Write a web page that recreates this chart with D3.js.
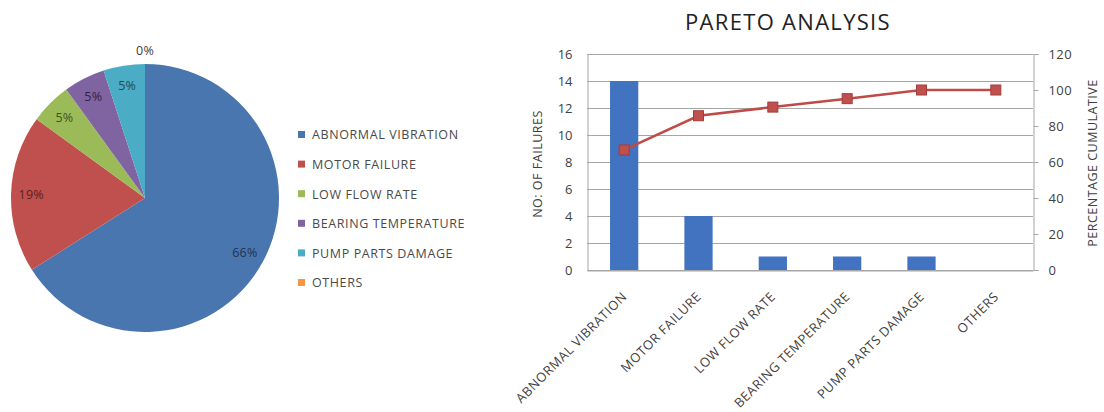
<!DOCTYPE html>
<html>
<head>
<meta charset="utf-8">
<script src="https://cdn.jsdelivr.net/npm/d3@7"></script>
<style>
  html, body { margin: 0; padding: 0; background: #fff; }
  svg { display: block; font-family: "Open Sans", Lato, sans-serif; }
</style>
</head>
<body>
<svg id="chart" width="1104" height="412"></svg>
<script>
// Failure categories and counts
const categories = ["ABNORMAL VIBRATION", "MOTOR FAILURE", "LOW FLOW RATE",
                    "BEARING TEMPERATURE", "PUMP PARTS DAMAGE", "OTHERS"];
const failures = [14, 4, 1, 1, 1, 0];
// Share of failures as printed on the pie slices
const sharePct = [66, 19, 5, 5, 5, 0];
// Cumulative percentage for the Pareto line
const cumulativePct = [66.7, 85.7, 90.5, 95.2, 100, 100];
const leftTicks = [0, 2, 4, 6, 8, 10, 12, 14, 16];
const rightTicks = [0, 20, 40, 60, 80, 100, 120];

const pieColors = ["#4a76b0", "#c0504d", "#9bbb59", "#8064a2", "#4bacc6", "#f79646"];
const textColor = "#404040";
const font = "'Open Sans', Lato, sans-serif";

const svg = d3.select("#chart");

// ---------- Pie ----------
const pieG = svg.append("g").attr("transform", "translate(145,198)");
const radius = 134;
const pie = d3.pie().sort(null).value(d => d)(sharePct);
const arc = d3.arc().innerRadius(0).outerRadius(radius);
pieG.selectAll("path.slice").data(pie).join("path")
  .attr("class", "slice")
  .attr("d", arc)
  .attr("fill", (d, i) => pieColors[i]);

// Percent labels: inside near the rim, the empty slice sits outside
const labelArc = d3.arc().innerRadius(radius * 0.85).outerRadius(radius * 0.85);
const outerArc = d3.arc().innerRadius(radius * 1.1).outerRadius(radius * 1.1);
const labelColors = ["#1f3350", "#5a1f1e", "#3f5220", "#2f2245", "#1f4a55", "#404040"];
pieG.selectAll("text.pct").data(pie).join("text")
  .attr("class", "pct")
  .attr("transform", (d, i) => {
    const c = d.value === 0 ? outerArc.centroid(d) : labelArc.centroid(d);
    return `translate(${c[0]},${c[1]})`;
  })
  .attr("text-anchor", "middle")
  .attr("dy", "0.35em")
  .attr("font-size", 12.5)
  .attr("letter-spacing", 0.2)
  .attr("fill", (d, i) => labelColors[i])
  .text(d => d.value + "%");

// Legend
const legend = svg.append("g").attr("transform", "translate(298,135)");
const rowY = d3.scalePoint().domain(categories).range([0, 148]);
const lg = legend.selectAll("g").data(categories).join("g")
  .attr("transform", d => `translate(0,${rowY(d)})`);
lg.append("rect").attr("x", 0).attr("y", -4).attr("width", 7).attr("height", 7)
  .attr("fill", (d, i) => pieColors[i]);
lg.append("text").attr("x", 14).attr("dy", "0.35em")
  .attr("font-size", 12.5).attr("letter-spacing", 0.6)
  .attr("fill", "#4a4a4a").text(d => d);

// ---------- Pareto ----------
const plot = { left: 587, right: 1033, top: 54, bottom: 270 };
const x = d3.scaleBand().domain(categories).range([plot.left, plot.right]).paddingInner(0.62).paddingOuter(0.31);
const xc = d3.scalePoint().domain(categories).range([plot.left, plot.right]).padding(0.5);
const yL = d3.scaleLinear().domain([0, 16]).range([plot.bottom, plot.top]);
const yR = d3.scaleLinear().domain([0, 120]).range([plot.bottom, plot.top]);

svg.append("text")
  .attr("x", 788).attr("y", 30)
  .attr("text-anchor", "middle")
  .attr("font-size", 22).attr("letter-spacing", 1.3).attr("fill", "#222")
  .text("PARETO ANALYSIS");

// Gridlines
svg.append("g").selectAll("line").data(leftTicks).join("line")
  .attr("x1", plot.left).attr("x2", plot.right)
  .attr("y1", d => Math.round(yL(d)) + 0.5).attr("y2", d => Math.round(yL(d)) + 0.5)
  .attr("stroke", "#a6a6a6").attr("stroke-width", 1);

// Left axis
const axL = svg.append("g").attr("transform", `translate(${plot.left + 0.5},0)`)
  .call(d3.axisLeft(yL).tickValues(leftTicks).tickSize(0).tickPadding(15));
axL.select(".domain").attr("stroke", "#a6a6a6");
axL.selectAll("text").attr("font-size", 13).attr("fill", textColor)
  .attr("font-family", font);

// Right axis
const axR = svg.append("g").attr("transform", `translate(${plot.right + 0.5},0)`)
  .call(d3.axisRight(yR).tickValues(rightTicks).tickSize(5).tickPadding(10));
axR.select(".domain").attr("stroke", "#a6a6a6");
axR.selectAll("line").attr("stroke", "#a6a6a6");
axR.selectAll("text").attr("font-size", 13).attr("letter-spacing", 0.4).attr("fill", textColor)
  .attr("font-family", font);

// Bottom axis
const axB = svg.append("g").attr("transform", `translate(0,${plot.bottom + 0.5})`)
  .call(d3.axisBottom(xc).tickSize(0).tickPadding(0));
axB.select(".domain").attr("stroke", "#a6a6a6");
axB.selectAll("text")
  .attr("font-size", 13).attr("letter-spacing", 0.5).attr("fill", textColor)
  .attr("font-family", font)
  .attr("text-anchor", "end")
  .attr("dy", 0)
  .attr("transform", "translate(3,27) rotate(-45)");

// Bars
svg.append("g").selectAll("rect").data(failures).join("rect")
  .attr("x", (d, i) => x(categories[i]))
  .attr("width", x.bandwidth())
  .attr("y", d => yL(d))
  .attr("height", d => yL(0) - yL(d))
  .attr("fill", "#4273c0");

// Cumulative line
const line = d3.line().x((d, i) => xc(categories[i])).y(d => yR(d));
svg.append("path").datum(cumulativePct)
  .attr("d", line).attr("fill", "none")
  .attr("stroke", "#be4b48").attr("stroke-width", 2.5);
svg.append("g").selectAll("rect").data(cumulativePct).join("rect")
  .attr("x", (d, i) => xc(categories[i]) - 5)
  .attr("y", d => yR(d) - 5)
  .attr("width", 10).attr("height", 10)
  .attr("fill", "#c0504d").attr("stroke", "#a33d3a").attr("stroke-width", 1);

// Axis titles
svg.append("text")
  .attr("transform", `translate(542,164) rotate(-90)`)
  .attr("text-anchor", "middle").attr("font-size", 12.5).attr("letter-spacing", 0.5)
  .attr("fill", textColor)
  .text("NO: OF FAILURES");
svg.append("text")
  .attr("transform", `translate(1097,163) rotate(-90)`)
  .attr("text-anchor", "middle").attr("font-size", 12.5).attr("letter-spacing", 0.5)
  .attr("fill", textColor)
  .text("PERCENTAGE CUMULATIVE");
</script>
</body>
</html>
